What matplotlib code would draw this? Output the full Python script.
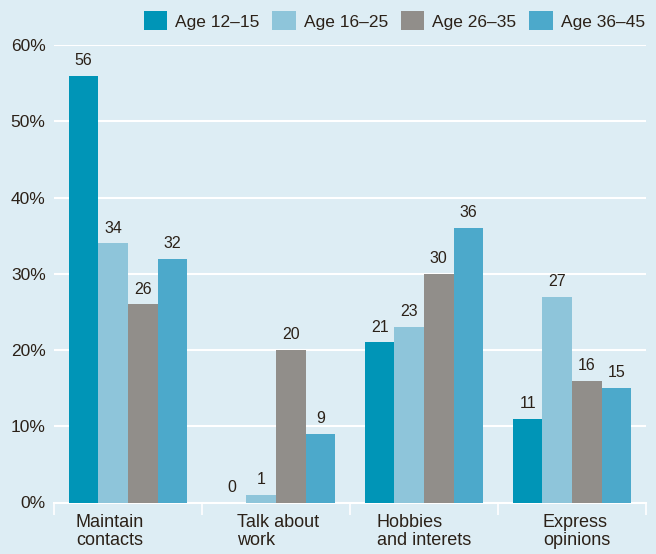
import numpy as np
import matplotlib.pyplot as plt

plt.rcParams['font.family'] = ['Liberation Sans', 'DejaVu Sans']

categories = ['Maintain\ncontacts', 'Talk about\nwork', 'Hobbies\nand interets', 'Express\nopinions']
series = ['Age 12–15', 'Age 16–25', 'Age 26–35', 'Age 36–45']
age_12_15 = [56, 0, 21, 11]
age_16_25 = [34, 1, 23, 27]
age_26_35 = [26, 20, 30, 16]
age_36_45 = [32, 9, 36, 15]
values = [age_12_15, age_16_25, age_26_35, age_36_45]
colors = ['#0095b7', '#8ec5da', '#918e8a', '#4ca9cb']
bg = '#ddedf4'
txt = '#2b2118'

fig = plt.figure(figsize=(6.56, 5.54), dpi=100, facecolor=bg)
ax = fig.add_axes([54/656, 1-502.5/554, 592/656, 457.5/554], facecolor=bg)

x = np.arange(len(categories))
w = 0.2
handles = []
for i, (name, vals) in enumerate(zip(series, values)):
    b = ax.bar(x + (i - 1.5) * w, vals, w, color=colors[i], label=name, zorder=3)
    handles.append(b)
    for xi, v in zip(x + (i - 1.5) * w, vals):
        ax.annotate(str(v), (xi, v), xytext=(0, 5.5), textcoords='offset points',
                    ha='center', va='bottom', fontsize=11.5, color=txt)

ax.set_xlim(-0.5, 3.5)
ax.set_ylim(0, 60)
ax.set_yticks(np.arange(0, 61, 10))
ax.set_yticklabels([f'{t}%' for t in range(0, 61, 10)], fontsize=12.5, color=txt)
ax.grid(axis='y', color='white', linewidth=1.5, zorder=0)
ax.tick_params(axis='y', length=0, pad=6)

ax.set_xticks([])
ax.set_xticks(np.arange(-0.5, 3.6, 1), minor=True)
ax.tick_params(axis='x', which='minor', length=8.5, width=1.2, color='white', direction='out')
ax.set_xticklabels([], minor=True)

for s in ['left', 'right', 'top']:
    ax.spines[s].set_visible(False)
ax.spines['bottom'].set_color('white')
ax.spines['bottom'].set_linewidth(1.5)

label_x = [-0.352, 0.736, 1.682, 2.804]
for lx, lab in zip(label_x, categories):
    ax.text(lx, -1.5, lab, ha='left', va='top', fontsize=13, color=txt,
            linespacing=1.05, transform=ax.transData, clip_on=False)

fig.legend(handles=handles, labels=series, loc='upper right', bbox_to_anchor=(1.0, 1.0),
           ncol=4, frameon=False, fontsize=12.5, handlelength=1.35, handleheight=1.3,
           handletextpad=0.45, columnspacing=0.75, labelcolor=txt, borderaxespad=0.25)

fig.savefig('out.png', dpi=100, facecolor=bg)
